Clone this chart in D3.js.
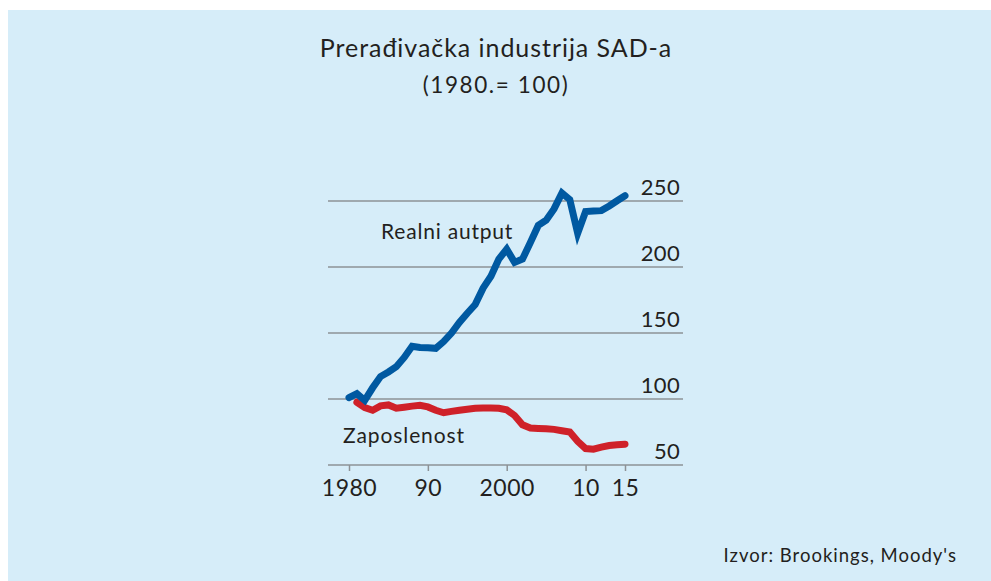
<!DOCTYPE html>
<html>
<head>
<meta charset="utf-8">
<script src="https://cdn.jsdelivr.net/npm/d3@7"></script>
<style>
  html, body { margin: 0; padding: 0; background: #ffffff; }
  svg { display: block; }
  text { font-family: "Lato", "Open Sans", sans-serif; fill: #231f20; }
</style>
</head>
<body>
<svg id="chart" width="991" height="581"></svg>
<script>
// Years and index values (1980 = 100)
const outputYears = d3.range(1980, 2016);
const outputValues = [
  101, 104, 99, 108.5, 117, 120.5, 124.5, 131.5, 140, 139,
  138.8, 138.4, 143.5, 150, 158, 165, 171.5, 184, 193, 206,
  213.5, 203.5, 206, 218.5, 231.5, 235.5, 244, 256, 251, 225.5,
  242, 242.4, 242.7, 246.2, 250.2, 254
];

const employmentYears = d3.range(1981, 2016);
const employmentValues = [
  97.5, 93.5, 91.5, 94.8, 95.5, 93, 93.8, 94.6, 95.2, 94,
  91.5, 89.6, 90.6, 91.5, 92.2, 93, 93.1, 93.1, 93, 91.8,
  87.5, 80.5, 78, 77.7, 77.5, 77, 76, 75, 68, 62.5,
  62, 63.5, 64.8, 65.3, 65.8
];

const xTickValues = [1980, 1990, 2000, 2010, 2015];
const xTickLabels = ["1980", "90", "2000", "10", "15"];
const yTickValues = [50, 100, 150, 200, 250];

const titleText = "Prerađivačka industrija SAD-a";
const subtitleText = "(1980.= 100)";
const outputLabel = "Realni autput";
const employmentLabel = "Zaposlenost";
const sourceText = "Izvor: Brookings, Moody's";

const svg = d3.select("#chart");

// Panel background
svg.append("rect")
  .attr("x", 8).attr("y", 10)
  .attr("width", 983).attr("height", 571)
  .attr("fill", "#d6edf9");

// Plot frame
const frame = { left: 328, right: 683 };
const x = d3.scaleLinear().domain([1980, 2015]).range([349, 625]);
const y = d3.scaleLinear().domain([50, 250]).range([465, 201]);

// Horizontal gridlines (the 50 line doubles as the baseline)
svg.append("g")
  .selectAll("line")
  .data(yTickValues)
  .join("line")
  .attr("x1", frame.left).attr("x2", frame.right)
  .attr("y1", d => y(d)).attr("y2", d => y(d))
  .attr("stroke", "#8d9296")
  .attr("stroke-width", 1.5);

// Y labels sit above the right end of each gridline
svg.append("g")
  .selectAll("text")
  .data(yTickValues)
  .join("text")
  .attr("x", 680)
  .attr("y", d => y(d) - 6.5)
  .attr("text-anchor", "end")
  .attr("font-size", 22)
  .attr("letter-spacing", 0.3)
  .text(d => d);

// X axis ticks and labels
const xAxis = d3.axisBottom(x)
  .tickValues(xTickValues)
  .tickFormat((d, i) => xTickLabels[i])
  .tickSize(6)
  .tickPadding(9);

const xg = svg.append("g")
  .attr("transform", `translate(0,${y(50)})`)
  .call(xAxis);
xg.select(".domain").remove();
xg.selectAll(".tick line").attr("stroke", "#8d9296").attr("stroke-width", 1.5);
xg.selectAll(".tick text")
  .attr("font-family", "Lato, 'Open Sans', sans-serif")
  .attr("font-size", 23)
  .attr("letter-spacing", 0.5)
  .attr("fill", "#231f20");

// Series lines
const line = d3.line()
  .x(d => x(d[0]))
  .y(d => y(d[1]));

svg.append("path")
  .datum(d3.zip(employmentYears, employmentValues))
  .attr("d", line)
  .attr("fill", "none")
  .attr("stroke", "#cf2129")
  .attr("stroke-width", 7)
  .attr("stroke-linecap", "round")
  .attr("stroke-linejoin", "miter");

svg.append("path")
  .datum(d3.zip(outputYears, outputValues))
  .attr("d", line)
  .attr("fill", "none")
  .attr("stroke", "#0059a1")
  .attr("stroke-width", 7)
  .attr("stroke-linecap", "round")
  .attr("stroke-linejoin", "miter");

// Series labels
svg.append("text")
  .attr("x", 381).attr("y", 239)
  .attr("font-size", 21)
  .attr("letter-spacing", 0.8)
  .text(outputLabel);

svg.append("text")
  .attr("x", 343).attr("y", 443)
  .attr("font-size", 21)
  .attr("letter-spacing", 0.9)
  .text(employmentLabel);

// Titles
svg.append("text")
  .attr("x", 496).attr("y", 57)
  .attr("text-anchor", "middle")
  .attr("font-size", 25)
  .attr("letter-spacing", 0.95)
  .text(titleText);

svg.append("text")
  .attr("x", 496).attr("y", 93)
  .attr("text-anchor", "middle")
  .attr("font-size", 22.5)
  .attr("letter-spacing", 1.6)
  .text(subtitleText);

// Source note
svg.append("text")
  .attr("x", 957).attr("y", 562)
  .attr("text-anchor", "end")
  .attr("font-size", 18.5)
  .attr("letter-spacing", 1)
  .text(sourceText);
</script>
</body>
</html>
